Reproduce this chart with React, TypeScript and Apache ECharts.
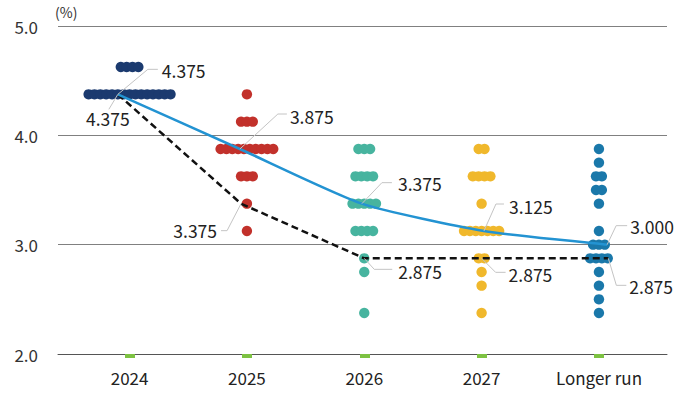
import React, { useEffect, useRef } from 'react';
import * as echarts from 'echarts';

const categories = ['2024', '2025', '2026', '2027', 'Longer run'];

// [rate, number of participants]
const dots2024 = [[4.625, 4], [4.375, 15]];
const dots2025 = [[4.375, 1], [4.125, 3], [3.875, 10], [3.625, 3], [3.375, 1], [3.125, 1]];
const dots2026 = [[3.875, 3], [3.625, 4], [3.375, 5], [3.125, 4], [2.875, 1], [2.75, 1], [2.375, 1]];
const dots2027 = [[3.875, 2], [3.625, 4], [3.375, 1], [3.125, 7], [2.875, 2], [2.75, 1], [2.625, 1], [2.375, 1]];
const dotsLonger = [[3.875, 1], [3.75, 1], [3.625, 2], [3.5, 2], [3.375, 1], [3.125, 1], [3.0, 3], [2.875, 4], [2.75, 1], [2.625, 1], [2.5, 1], [2.375, 1]];
const dotsByYear = [dots2024, dots2025, dots2026, dots2027, dotsLonger];

const currentMedian = [4.375, 3.875, 3.375, 3.125, 3.0];
const previousMedian = [4.375, 3.375, 2.875, 2.875, 2.875];
// x positions of the median-line points (category index)
const currentX = [-0.1, 0.94, 1.98, 3.02, 4.07];
const previousX = [-0.1, 0.95, 2, 3, 4.08];

const yTicks = [2, 3, 4, 5];

// styles
const dotColors = ['#1b3a6f', '#c2312b', '#47b49f', '#f0b82c', '#1a78aa'];
const FONT = '"Noto Sans CJK JP", "Noto Sans", sans-serif';
const DOT_R = 5.2;
const DOT_SP = 5.85;

const currentLayout = [
  { line: [[30, -25], [40, -25]], tx: 44, ty: -24, align: 'left' },
  { line: [[38, -35], [47, -35]], tx: 50, ty: -33, align: 'left' },
  { line: [[20, -21], [30, -21]], tx: 36, ty: -20, align: 'left' },
  { line: [[12, -27], [20, -27]], tx: 25, ty: -25, align: 'left' },
  { line: [[9, -19], [20, -19]], tx: 23, ty: -18, align: 'left' },
];
const previousLayout = [
  { line: [[-9, 15]], tx: -10, ty: 24, align: 'center' },
  { line: [[-14, 27], [-20, 27]], tx: -24, ty: 27, align: 'right' },
  { line: [[10, 11], [28, 11]], tx: 34, ty: 13, align: 'left' },
  { line: [[14, 14], [24, 14]], tx: 27, ty: 16, align: 'left' },
  { line: [[8, 27], [18, 27]], tx: 21, ty: 28, align: 'left' },
];

function dotSeries(idx: number) {
  return {
    type: 'custom',
    name: categories[idx],
    coordinateSystem: 'cartesian2d',
    silent: true,
    clip: false,
    z: 2,
    data: dotsByYear[idx].map(([r, n]) => [idx, r, n]),
    encode: { x: 0, y: 1 },
    renderItem: (_params: any, api: any) => {
      const c = api.value(0);
      const r = api.value(1);
      const n = api.value(2);
      const p = api.coord([c, r]);
      const children: any[] = [];
      for (let i = 0; i < n; i++) {
        children.push({
          type: 'circle',
          shape: { cx: p[0] + (i - (n - 1) / 2) * DOT_SP, cy: p[1], r: DOT_R },
          style: { fill: dotColors[idx] },
        });
      }
      return { type: 'group', children };
    },
  };
}

function annotSeries(name: string, vals: number[], xs: number[], layouts: any[]) {
  return {
    type: 'custom',
    name,
    coordinateSystem: 'cartesian2d',
    silent: true,
    clip: false,
    z: 6,
    data: vals.map((v, i) => [xs[i], v, i]),
    encode: { x: 0, y: 1 },
    renderItem: (_params: any, api: any) => {
      const i = api.value(2);
      const v = api.value(1);
      const p = api.coord([api.value(0), v]);
      const L = layouts[i];
      const pts = [[p[0], p[1]], ...L.line.map(([dx, dy]: number[]) => [p[0] + dx, p[1] + dy])];
      return {
        type: 'group',
        children: [
          {
            type: 'polyline',
            shape: { points: pts },
            style: { stroke: '#c4c4c4', lineWidth: 1, fill: null },
          },
          {
            type: 'text',
            x: p[0] + L.tx,
            y: p[1] + L.ty,
            style: {
              text: v.toFixed(3),
              fill: '#222',
              fontSize: 17.5,
              fontFamily: FONT,
              align: L.align,
              verticalAlign: 'middle',
            },
          },
        ],
      };
    },
  };
}

export default function App() {
  const ref = useRef<HTMLDivElement>(null);
  useEffect(() => {
    if (!ref.current) return;
    const chart = echarts.init(ref.current, null, { renderer: 'svg' });
    chart.setOption({
      animation: false,
      backgroundColor: '#fff',
      textStyle: { fontFamily: FONT },
      grid: { left: 58, right: 33, top: 26, bottom: 39, containLabel: false },
      graphic: [
        {
          type: 'text',
          left: 55,
          top: 5,
          style: { text: '(%)', fill: '#333', fontSize: 14, fontFamily: FONT },
        },
      ],
      xAxis: {
        type: 'value',
        min: -0.61,
        max: 4.58,
        splitLine: { show: false },
        axisLine: { show: true, lineStyle: { color: '#555', width: 1 } },
        axisTick: {
          show: true,
          customValues: [0, 1, 2, 3, 4],
          length: 4,
          lineStyle: { color: '#7dc242', width: 10 },
        },
        axisLabel: {
          customValues: [0, 1, 2, 3, 4],
          formatter: (v: number) => categories[Math.round(v)],
          color: '#222',
          fontSize: 17,
          fontFamily: FONT,
          margin: 15,
        },
      },
      yAxis: {
        type: 'value',
        min: yTicks[0],
        max: yTicks[yTicks.length - 1],
        interval: 1,
        axisLine: { show: false },
        axisTick: { show: false },
        splitLine: { show: true, lineStyle: { color: '#808080', width: 1 } },
        axisLabel: {
          formatter: (v: number) => v.toFixed(1),
          color: '#333',
          fontSize: 17,
          fontFamily: FONT,
          margin: 20,
        },
      },
      series: [
        ...categories.map((_, i) => dotSeries(i)),
        {
          type: 'line',
          name: 'Previous median',
          z: 4,
          silent: true,
          symbol: 'none',
          data: previousX.map((x, i) => [x, previousMedian[i]]),
          lineStyle: { color: '#111', width: 2.5, type: [7, 4] },
        },
        {
          type: 'line',
          name: 'Current median',
          z: 5,
          silent: true,
          symbol: 'none',
          smooth: 0.2,
          data: currentX.map((x, i) => [x, currentMedian[i]]),
          lineStyle: { color: '#2393d2', width: 2.5 },
        },
        annotSeries('Current label', currentMedian, currentX, currentLayout),
        annotSeries('Previous label', previousMedian, previousX, previousLayout),
      ],
    });
    return () => chart.dispose();
  }, []);
  return <div ref={ref} style={{ width: 700, height: 393, position: 'absolute', left: 0, top: 0 }} />;
}
